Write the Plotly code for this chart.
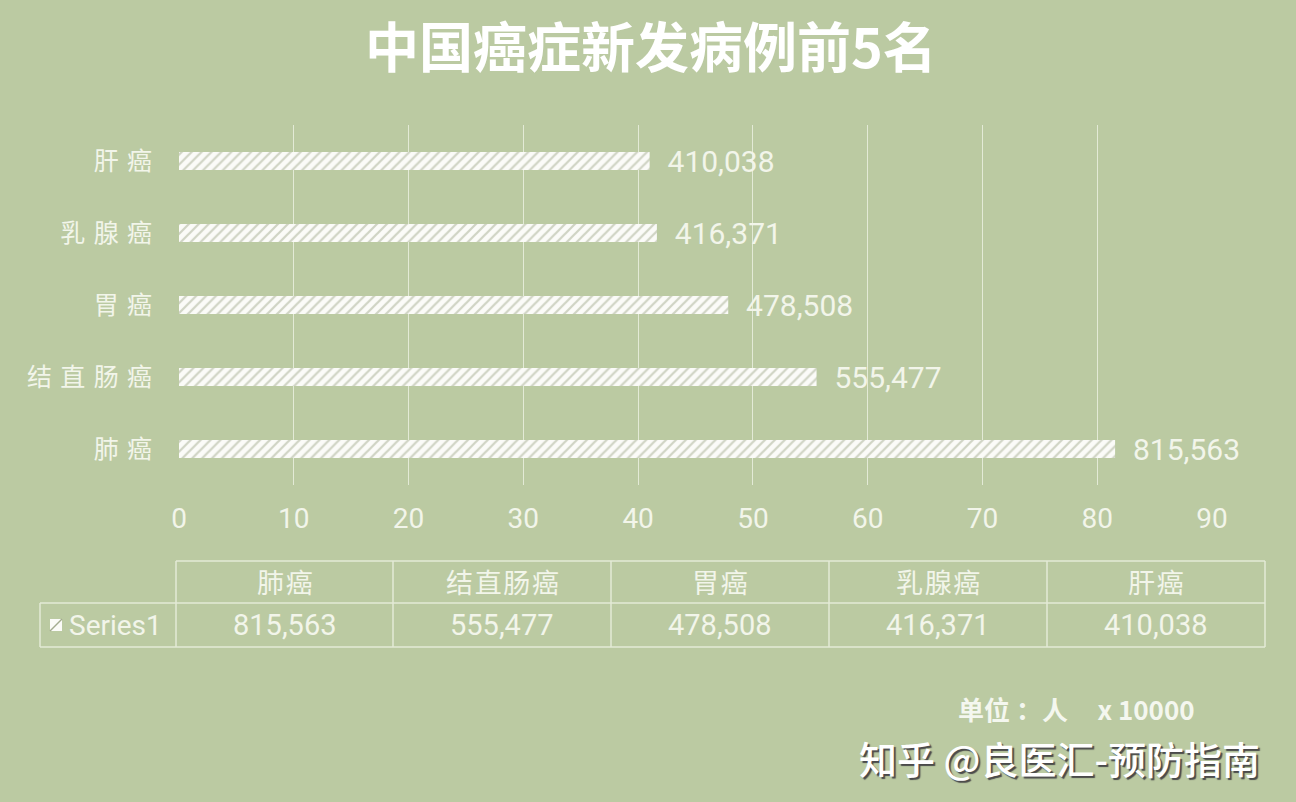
import plotly.graph_objects as go

# ---- data ----
categories = ["肺癌", "结直肠癌", "胃癌", "乳腺癌", "肝癌"]
cases = [815563, 555477, 478508, 416371, 410038]
unit = 10000
x_ticks = [0, 10, 20, 30, 40, 50, 60, 70, 80, 90]
series_name = "Series1"
title_text = "中国癌症新发病例前5名"
unit_text = "单位 ：人\u00a0\u00a0\u00a0\u00a0\u00a0x 10000"
watermark = "知乎 @良医汇-预防指南"

# ---- layout constants ----
W, H = 1296, 802
L, R, T, B = 179, 84, 125, 317
PW, PH = W - L - R, H - T - B
BG = "#bbcaa2"
TXT = "#f2f5ea"
LINE = "#e3ead6"
NUMFONT = "Roboto, Noto Sans CJK SC"
CJK = "Noto Sans CJK SC"


def px(xp):
    return (xp - L) / PW


def py(yp):
    return (H - B - yp) / PH


vals = [c / unit for c in cases]
labels = ["  " + f"{c:,}" for c in cases]
ticktext = ["\u2004".join(list(c)) for c in categories]

fig = go.Figure()
fig.add_trace(go.Bar(
    x=vals, y=categories, orientation="h",
    marker=dict(color="white", line=dict(width=0),
                pattern=dict(shape="/", fgcolor="#a3ac8f", bgcolor="#fbfbf8",
                             size=7, solidity=0.32)),
    text=labels, textposition="outside", cliponaxis=False,
    constraintext="none",
    textfont=dict(family=NUMFONT, size=30, color=TXT),
    hoverinfo="skip", showlegend=False,
))

fig.update_layout(
    width=W, height=H,
    margin=dict(l=L, r=R, t=T, b=B, autoexpand=False),
    paper_bgcolor=BG, plot_bgcolor=BG,
    bargap=0.75,
    xaxis=dict(range=[0, 90], tickvals=x_ticks, showgrid=True, gridcolor=LINE,
               gridwidth=1, zeroline=False, showline=False,
               tickfont=dict(family=NUMFONT, size=28, color=TXT),
               ticklabelstandoff=14, fixedrange=True),
    yaxis=dict(categoryorder="array", categoryarray=categories,
               tickvals=categories, ticktext=ticktext, showgrid=False,
               zeroline=False, showline=False,
               tickfont=dict(family=CJK, size=25, color=TXT),
               ticklabelstandoff=26, fixedrange=True),
)

shapes = []
ann = []

# title
ann.append(dict(text=f"<b>{title_text}</b>", x=px(651), y=py(45), xref="paper", yref="paper",
                showarrow=False, xanchor="center", yanchor="middle",
                font=dict(family=CJK, size=54, color="white")))

# ---- data table ----
col_edges = [176, 393, 611, 829, 1047, 1265]
row_top, row_mid, row_bot = 561, 603, 647
lw = 1.5


def hline(x0, x1, y):
    shapes.append(dict(type="line", xref="paper", yref="paper", x0=px(x0), x1=px(x1),
                       y0=py(y), y1=py(y), line=dict(color=LINE, width=lw)))


def vline(x, y0, y1):
    shapes.append(dict(type="line", xref="paper", yref="paper", x0=px(x), x1=px(x),
                       y0=py(y0), y1=py(y1), line=dict(color=LINE, width=lw)))


hline(col_edges[0], col_edges[-1], row_top)
hline(40, col_edges[-1], row_mid)
hline(40, col_edges[-1], row_bot)
vline(40, row_mid, row_bot)
for e in col_edges:
    vline(e, row_top, row_bot)

for i, (cat, c) in enumerate(zip(categories, cases)):
    cx = (col_edges[i] + col_edges[i + 1]) / 2
    ann.append(dict(text="\u200a".join(list(cat)), x=px(cx), y=py(581), xref="paper", yref="paper",
                    showarrow=False, xanchor="center", yanchor="middle",
                    font=dict(family=CJK, size=27, color=TXT)))
    ann.append(dict(text=f"{c:,}", x=px(cx), y=py(625), xref="paper", yref="paper",
                    showarrow=False, xanchor="center", yanchor="middle",
                    font=dict(family=NUMFONT, size=29, color=TXT)))

# legend key in table
shapes.append(dict(type="rect", xref="paper", yref="paper", x0=px(50), x1=px(62),
                   y0=py(631), y1=py(619), fillcolor="#fbfbf8", line=dict(width=0)))
shapes.append(dict(type="line", xref="paper", yref="paper", x0=px(50), x1=px(62),
                   y0=py(631), y1=py(619), line=dict(color="#a3ac8f", width=1.5)))
ann.append(dict(text=series_name, x=px(67), y=py(625), xref="paper", yref="paper",
                showarrow=False, xanchor="left", yanchor="middle",
                font=dict(family=NUMFONT, size=28, color=TXT)))

# unit note
ann.append(dict(text=f"<b>{unit_text}</b>", x=px(1197), y=py(708), xref="paper", yref="paper",
                showarrow=False, xanchor="right", yanchor="middle",
                font=dict(family=CJK, size=26, color="#f4f7ef")))

# watermark
ann.append(dict(text=watermark, x=px(1262), y=py(757), xref="paper", yref="paper",
                showarrow=False, xanchor="right", yanchor="middle",
                font=dict(family=CJK, size=38, color="white", weight=500,
                          shadow="2px 2px 1px #4a4a4a")))

fig.update_layout(shapes=shapes, annotations=ann)
fig.write_html("out.html", config={"displayModeBar": False},
               post_script="document.body.style.margin='0px';")
